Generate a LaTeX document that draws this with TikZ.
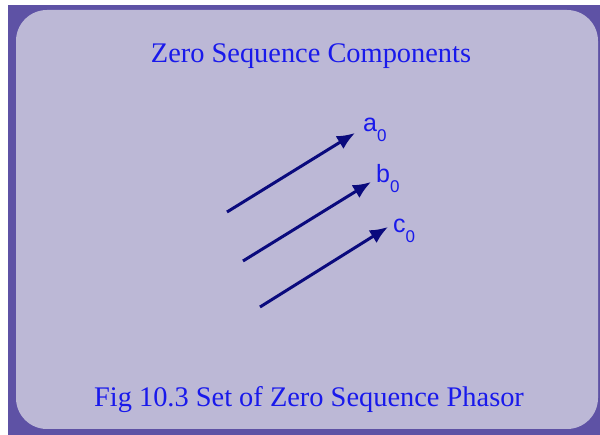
\documentclass[tikz,border=0pt]{standalone}
\usepackage{fontspec}
\setmainfont{Liberation Serif}
\newfontfamily\labelfont{Liberation Sans}
\usetikzlibrary{positioning}
\usetikzlibrary{arrows.meta}
\definecolor{frame}{RGB}{94,82,165}
\definecolor{panel}{RGB}{188,184,214}
\definecolor{inkblue}{RGB}{25,25,235}
\definecolor{phasorblue}{RGB}{10,10,125}
\tikzset{phasor/.style={draw=phasorblue,line width=3pt,-{Latex[length=18pt,width=15pt]}}}
\tikzset{plabel/.style={inkblue,inner sep=0pt,anchor=base west,font=\labelfont\fontsize{25}{25}\selectfont}}
\tikzset{heading/.style={inkblue,inner sep=0pt,anchor=base,font=\fontsize{28.4}{28.4}\selectfont}}
\newcommand{\sub}[1]{\raisebox{-9.5pt}{\fontsize{17}{17}\selectfont #1}}

\begin{document}
\begin{tikzpicture}[x=1pt,y=-1pt]
\useasboundingbox (0,0) rectangle (600,435);
\fill[frame] (8,5) rectangle (600,435);
\fill[panel,rounded corners=31pt] (16,10) rectangle (598,429);

\node[heading] at (311,63) (title) {Zero Sequence Components};
\node[heading] at (309,407) (caption) {Fig 10.3 Set of Zero Sequence Phasor};

% phasors
\coordinate (as) at (227,212);
\coordinate (at) at (355,133);
\coordinate (bs) at (243,261);
\coordinate (bt) at (371,182);
\coordinate (cs) at (260,307);
\coordinate (ct) at (388,227);

\node[plabel] at (363,132) (a0) {a\sub{0}};
\node[plabel] at (376,183) (b0) {b\sub{0}};
\node[plabel] at (393,233) (c0) {c\sub{0}};

\draw[phasor] (as) -- (at);
\draw[phasor] (bs) -- (bt);
\draw[phasor] (cs) -- (ct);

\end{tikzpicture}
\end{document}
